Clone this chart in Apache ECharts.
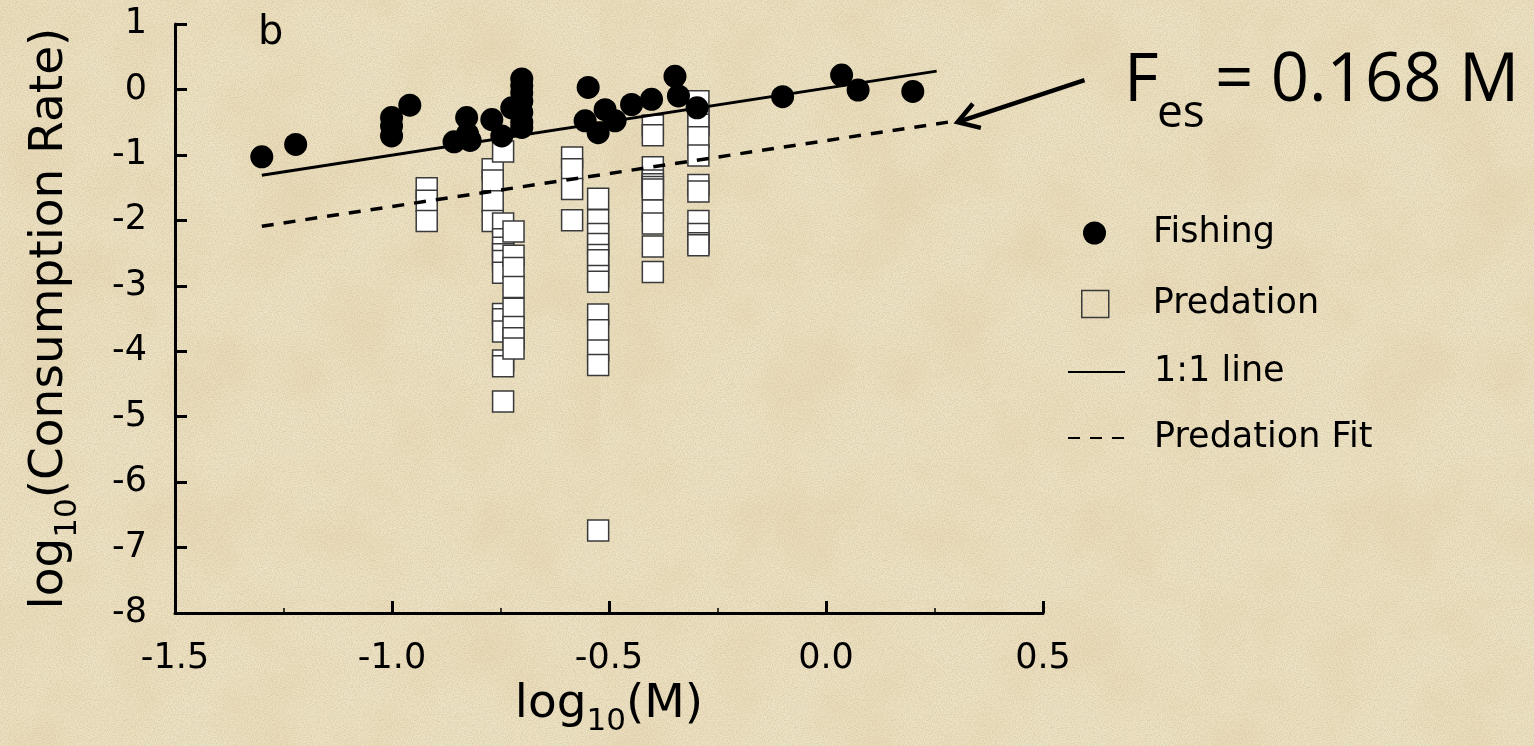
<!DOCTYPE html>
<html>
<head>
<meta charset="utf-8">
<script src="https://cdn.jsdelivr.net/npm/echarts@6/dist/echarts.min.js"></script>
<style>
html,body{margin:0;padding:0;width:1534px;height:746px;overflow:hidden;}
body{
  background-color:#EEE4C6;
  background-image:
    url("data:image/svg+xml;utf8,<svg xmlns='http://www.w3.org/2000/svg' width='256' height='256'><filter id='n'><feTurbulence type='fractalNoise' baseFrequency='0.85' numOctaves='2' stitchTiles='stitch'/><feColorMatrix values='0 0 0 0 0.62  0 0 0 0 0.52  0 0 0 0 0.33  1.3 0 0 0 -0.45'/></filter><rect width='100%25' height='100%25' filter='url(%23n)'/></svg>"),
    url("data:image/svg+xml;utf8,<svg xmlns='http://www.w3.org/2000/svg' width='600' height='600'><filter id='m'><feTurbulence type='fractalNoise' baseFrequency='0.012' numOctaves='3' stitchTiles='stitch'/><feColorMatrix values='0 0 0 0 0.80  0 0 0 0 0.66  0 0 0 0 0.42  1.2 0 0 0 -0.45'/></filter><rect width='100%25' height='100%25' filter='url(%23m)'/></svg>");
}
#c{width:1534px;height:746px;}
</style>
</head>
<body>
<div id="c"></div>
<script>
// ---- data ----
const xTickValues = [-1.5, -1.0, -0.5, 0.0, 0.5];
const yTickValues = [1, 0, -1, -2, -3, -4, -5, -6, -7, -8];

const fishing = [
  [-1.300,-1.03],[-1.222,-0.84],[-1.001,-0.43],[-1.001,-0.56],[-1.001,-0.71],[-0.959,-0.24],
  [-0.857,-0.80],[-0.828,-0.43],[-0.826,-0.68],[-0.820,-0.78],[-0.770,-0.46],[-0.747,-0.71],
  [-0.724,-0.28],[-0.701,0.16],[-0.701,0.06],[-0.701,-0.05],[-0.701,-0.18],[-0.701,-0.35],
  [-0.701,-0.50],[-0.701,-0.58],[-0.548,0.03],[-0.555,-0.48],[-0.525,-0.66],[-0.509,-0.31],
  [-0.486,-0.48],[-0.448,-0.23],[-0.402,-0.15],[-0.348,0.20],[-0.340,-0.10],[-0.297,-0.28],
  [-0.100,-0.11],[0.036,0.22],[0.074,-0.01],[0.200,-0.03]
];

const predation = [
  [-0.920,-1.51],[-0.920,-1.70],[-0.920,-2.01],
  [-0.768,-1.22],[-0.768,-1.39],[-0.768,-1.71],[-0.768,-2.01],
  [-0.744,-0.95],[-0.744,-2.05],[-0.744,-2.29],[-0.744,-2.42],[-0.744,-2.52],[-0.744,-2.62],
  [-0.744,-2.80],[-0.744,-3.43],[-0.744,-3.51],[-0.744,-3.70],[-0.744,-4.14],[-0.744,-4.23],[-0.744,-4.77],
  [-0.720,-2.17],[-0.720,-2.54],[-0.720,-2.73],[-0.720,-3.02],[-0.720,-3.35],[-0.720,-3.63],[-0.720,-3.80],[-0.720,-3.96],
  [-0.585,-1.04],[-0.585,-1.22],[-0.585,-1.52],[-0.585,-2.00],
  [-0.525,-1.67],[-0.525,-2.00],[-0.525,-2.21],[-0.525,-2.36],[-0.525,-2.53],[-0.525,-2.61],
  [-0.525,-2.85],[-0.525,-2.94],[-0.525,-3.44],[-0.525,-3.68],[-0.525,-3.99],[-0.525,-4.21],[-0.525,-6.74],
  [-0.399,-0.55],[-0.399,-0.70],[-0.399,-1.19],[-0.399,-1.39],[-0.399,-1.45],[-0.399,-1.49],
  [-0.399,-1.53],[-0.399,-1.85],[-0.399,-2.05],[-0.399,-2.40],[-0.399,-2.79],
  [-0.294,-0.18],[-0.294,-0.43],[-0.294,-0.54],[-0.294,-0.73],[-0.294,-1.01],[-0.294,-1.46],
  [-0.294,-1.56],[-0.294,-2.01],[-0.294,-2.21],[-0.294,-2.35],[-0.294,-2.38]
];

const oneToOneLine = [[-1.30,-1.31],[0.255,0.28]];
const predationFitLine = [[-1.30,-2.09],[0.31,-0.47]];

const seriesNames = ['Fishing', 'Predation', '1:1 line', 'Predation Fit'];
const panelLabel = 'b';
const annotation = { main: 'F', sub: 'es', rest: '= 0.168 M' };

// ---- chart ----
const FONT = 'DejaVu Sans';
const chart = echarts.init(document.getElementById('c'), null, {renderer: 'canvas'});

const subRich = {
  a: {fontFamily: FONT, fontSize: 47, color: '#000', lineHeight: 47, verticalAlign: 'top'},
  b: {fontFamily: FONT, fontSize: 31, color: '#000', lineHeight: 31, padding: [26, 0, 0, 0], verticalAlign: 'top'}
};

const legendText = {fontFamily: FONT, fontSize: 35, color: '#000', lineHeight: 38};
const legendBase = {orient: 'vertical', padding: 0, itemGap: 0, selectedMode: false};

const option = {
  animation: false,
  backgroundColor: 'transparent',
  grid: {left: 175, right: 491, top: 24, bottom: 133},
  xAxis: {
    type: 'value', min: xTickValues[0], max: xTickValues[xTickValues.length - 1], interval: 0.5,
    axisLine: {onZero: false, lineStyle: {color: '#000', width: 3}},
    axisTick: {inside: true, length: 12, lineStyle: {color: '#000', width: 3}},
    minorTick: {show: true, splitNumber: 2, length: 5, lineStyle: {color: '#000', width: 1.5}},
    splitLine: {show: false},
    axisLabel: {margin: 28, fontFamily: FONT, fontSize: 35, color: '#000', formatter: v => v.toFixed(1)},
    name: '{a|log}{b|10}{a|(M)}', nameLocation: 'middle', nameGap: 65,
    nameTextStyle: {rich: subRich}
  },
  yAxis: {
    type: 'value', min: yTickValues[yTickValues.length - 1], max: yTickValues[0], interval: 1,
    axisLine: {onZero: false, lineStyle: {color: '#000', width: 3}},
    axisTick: {inside: true, length: 12, lineStyle: {color: '#000', width: 3}},
    splitLine: {show: false},
    axisLabel: {margin: 28, fontFamily: FONT, fontSize: 35, color: '#000'},
    name: '{a|log}{b|10}{a|(Consumption Rate)}', nameLocation: 'middle', nameGap: 102,
    nameTextStyle: {rich: subRich}
  },
  legend: [
    Object.assign({}, legendBase, {left: 1083, top: 214, itemWidth: 23, itemHeight: 23,
      data: [{name: seriesNames[0], icon: 'circle'}],
      textStyle: Object.assign({}, legendText, {padding: [0, 0, 0, 42]})}),
    Object.assign({}, legendBase, {left: 1081, top: 285, itemWidth: 27, itemHeight: 27,
      data: [{name: seriesNames[1], icon: 'rect', itemStyle: {color: 'rgba(0,0,0,0)', borderColor: '#3a3a3a', borderWidth: 1.5}}],
      textStyle: Object.assign({}, legendText, {padding: [0, 0, 0, 39]})}),
    Object.assign({}, legendBase, {left: 1067, top: 353, itemWidth: 57, itemHeight: 14,
      data: [{name: seriesNames[2], itemStyle: {opacity: 0}}],
      textStyle: Object.assign({}, legendText, {padding: [0, 0, 0, 24]})}),
    Object.assign({}, legendBase, {left: 1067, top: 419, itemWidth: 57, itemHeight: 14,
      data: [{name: seriesNames[3], itemStyle: {opacity: 0}}],
      textStyle: Object.assign({}, legendText, {padding: [0, 0, 0, 24]})})
  ],
  series: [
    {name: seriesNames[1], type: 'scatter', data: predation, symbol: 'rect', symbolSize: 21, z: 2,
      itemStyle: {color: '#ffffff', borderColor: '#3a3a3a', borderWidth: 1.5, opacity: 1}},
    {name: seriesNames[0], type: 'scatter', data: fishing, symbol: 'circle', symbolSize: 23, z: 3,
      itemStyle: {color: '#000000', opacity: 1}},
    {name: seriesNames[2], type: 'line', data: oneToOneLine, symbol: 'none', z: 4,
      itemStyle: {color: '#000'}, lineStyle: {color: '#000', width: 3}},
    {name: seriesNames[3], type: 'line', data: predationFitLine, symbol: 'none', z: 4,
      itemStyle: {color: '#000'}, lineStyle: {color: '#000', width: 3.5, type: [12, 10]}}
  ]
};
chart.setOption(option);

// annotation arrow pointing at the end of the predation fit line
const end = chart.convertToPixel({seriesIndex: 3}, predationFitLine[predationFitLine.length - 1]);
const tip = [end[0] - 3, end[1] + 2];
const tail = [tip[0] + 127, tip[1] - 42];
const dx = tip[0] - tail[0], dy = tip[1] - tail[1];
const len = Math.sqrt(dx * dx + dy * dy);
const ux = dx / len, uy = dy / len;
const armLen = 24, ang = 32 * Math.PI / 180;
function arm(sign) {
  const bx = -ux, by = -uy;
  const c = Math.cos(sign * ang), s = Math.sin(sign * ang);
  return [tip[0] + armLen * (bx * c - by * s), tip[1] + armLen * (bx * s + by * c)];
}
chart.setOption({
  graphic: [
    {type: 'text', left: 258, top: 14, style: {text: panelLabel, font: '40px "DejaVu Sans"', fill: '#000'}},
    {type: 'line', shape: {x1: tail[0], y1: tail[1], x2: tip[0], y2: tip[1]}, style: {stroke: '#000', lineWidth: 4.5}},
    {type: 'polyline', shape: {points: [arm(1), tip, arm(-1)]}, style: {stroke: '#000', lineWidth: 4.5, fill: null}},
    {type: 'text', x: 1124, y: 82, style: {text: annotation.main, font: '67px "Open Sans"', fill: '#000', verticalAlign: 'middle'}},
    {type: 'text', x: 1157, y: 114, style: {text: annotation.sub, font: '46px "Open Sans"', fill: '#000', verticalAlign: 'middle'}},
    {type: 'text', x: 1215, y: 82, style: {text: annotation.rest, font: '67px "Open Sans"', fill: '#000', verticalAlign: 'middle'}}
  ]
});
</script>
</body>
</html>
